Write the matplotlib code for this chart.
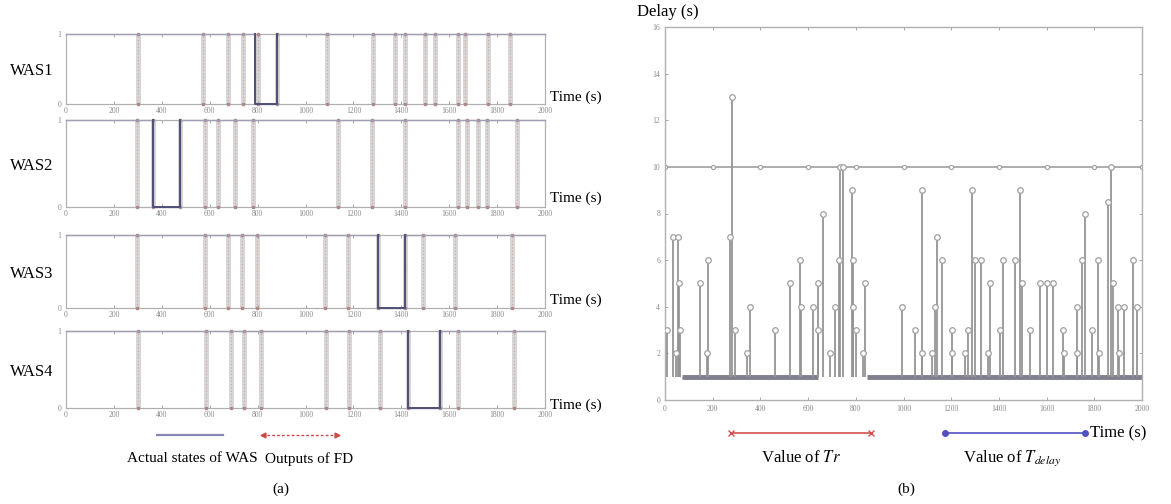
import numpy as np
import matplotlib.pyplot as plt
from matplotlib.lines import Line2D

plt.rcParams['font.family'] = ['Liberation Serif', 'DejaVu Serif']
plt.rcParams['mathtext.fontset'] = 'stix'

# ---- panel (a): WAS states and FD outputs ----
was_names = ['WAS1', 'WAS2', 'WAS3', 'WAS4']
# times (s) where the FD output a suspicion (vertical bars)
fd_out = [
    [300, 572, 677, 740, 800, 880, 1090, 1282, 1373, 1415, 1500, 1540, 1637, 1666, 1762, 1854],
    [296, 363, 476, 580, 635, 706, 781, 1136, 1278, 1415, 1637, 1674, 1720, 1757, 1883],
    [296, 580, 677, 735, 797, 1081, 1178, 1303, 1415, 1491, 1624, 1862],
    [300, 585, 689, 744, 813, 1087, 1182, 1311, 1430, 1560, 1637, 1871],
]
# interval where the WAS really was down (start, end)
was_down = [(790, 880), (363, 476), (1303, 1415), (1430, 1560)]
x_ticks = list(range(0, 2001, 200))

# ---- panel (b): detection delay ----
delay_t = [8, 35, 45, 55, 58, 62, 147, 175, 180, 272, 280, 293, 343, 356, 461, 524,
           566, 570, 620, 641, 643, 663, 692, 713, 730, 735, 745, 784, 789, 790, 800,
           830, 838, 994, 1048, 1077, 1077, 1119, 1132, 1140, 1161, 1203, 1205, 1258,
           1270, 1287, 1300, 1325, 1355, 1363, 1405, 1418, 1468, 1488, 1497, 1530,
           1572, 1600, 1628, 1670, 1672, 1726, 1728, 1747, 1761, 1789, 1817, 1820,
           1858, 1870, 1880, 1900, 1905, 1925, 1964, 1977]
delay_v = [3, 7, 2, 7, 5, 3, 5, 2, 6, 7, 13, 3, 2, 4, 3, 5,
           6, 4, 4, 5, 3, 8, 2, 4, 6, 10, 10, 9, 6, 4, 3,
           2, 5, 4, 3, 9, 2, 2, 4, 7, 6, 3, 2, 2,
           3, 9, 6, 6, 2, 5, 3, 6, 6, 9, 5, 3,
           5, 5, 5, 3, 2, 4, 2, 6, 8, 3, 6, 2,
           8.5, 10, 5, 4, 2, 4, 6, 4]
base_delay = 1
band_start = [70, 845]
band_end = [640, 2000]
tr_level = 10
y_ticks_b = list(range(0, 17, 2))

fig = plt.figure(figsize=(11.71, 5.04), dpi=100)
W, H = 1171, 504


def fx(px):
    return px / W


def fy(py):
    return 1 - py / H


tick_kw = dict(direction='in', length=2, width=0.6, labelsize=5.5,
               labelcolor='#8a8a8a', color='#999999', top=True, right=True)

boxes = [(34, 104), (120, 207), (235, 308), (331, 408)]
time_y = [97, 198, 300, 405]
for i, name in enumerate(was_names):
    top, bot = boxes[i]
    ax = fig.add_axes([fx(66), fy(bot), fx(545 - 66), (bot - top) / H])
    ev = np.array(fd_out[i])
    ax.vlines(ev, 0, 1, color='#d6d6d6', lw=3.6, zorder=1)
    ax.vlines(ev, 0, 1, color='#dca0a0', lw=0.8, linestyles=(0, (1, 2)), zorder=2)
    ax.plot(ev, np.ones(len(ev)), 's', ms=2, color='#b08888', zorder=3, clip_on=False)
    ax.plot(ev, np.zeros(len(ev)), 's', ms=2, color='#b08888', zorder=3, clip_on=False)
    d0, d1 = was_down[i]
    st_t = [0, d0, d0, d1, d1, 2000]
    st_v = [1, 1, 0, 0, 1, 1]
    ax.plot(st_t, st_v, color='#a0a0b4', lw=1.0, zorder=4, clip_on=False)
    # the down period itself, drawn darker
    ax.plot(st_t[1:5], st_v[1:5], color='#4e4e78', lw=1.4, zorder=5, clip_on=False)
    ax.set_xlim(0, 2000)
    ax.set_ylim(0, 1)
    ax.set_xticks(x_ticks)
    ax.set_yticks([0, 1])
    ax.tick_params(**tick_kw)
    ax.tick_params(axis='x', pad=2)
    for s in ax.spines.values():
        s.set_color('#b0b0b0')
        s.set_linewidth(0.9)
    fig.text(fx(10), fy((top + bot) / 2 + 2), name, fontsize=12, va='center', ha='left')
    fig.text(fx(550), fy(time_y[i]), 'Time (s)', fontsize=11, va='center', ha='left')

# legend (a)
fig.add_artist(Line2D([fx(157), fx(223)], [fy(435), fy(435)], color='#8888b8', lw=1.6))
fig.add_artist(Line2D([fx(262), fx(338)], [fy(435), fy(435)], color='#d04848', lw=1,
                      ls=(0, (2, 1.5))))
fig.add_artist(Line2D([fx(263)], [fy(435)], marker='<', ms=3.5, color='#d04848'))
fig.add_artist(Line2D([fx(337)], [fy(435)], marker='>', ms=3.5, color='#d04848'))
fig.text(fx(192), fy(459), 'Actual states of WAS', fontsize=11, ha='center', va='center')
fig.text(fx(309), fy(459), 'Outputs of FD', fontsize=11, ha='center', va='center')
fig.text(fx(281), fy(489), '(a)', fontsize=11, ha='center', va='center')

# ---- panel (b) ----
bx = fig.add_axes([fx(665), fy(400), fx(1142 - 665), (400 - 27) / H])
bx.axhline(tr_level, color='#a6a6a6', lw=1.3, zorder=1)
bx.plot(x_ticks, [tr_level] * len(x_ticks), 'o', ms=3, mfc='white', mec='#a0a0a0',
        mew=0.8, zorder=2)
bx.hlines([base_delay] * len(band_start), band_start, band_end, color='#80808e',
          lw=3.5, zorder=2)
bx.vlines(delay_t, base_delay, delay_v, color='#959595', lw=1.3, zorder=3)
bx.plot(delay_t, delay_v, 'o', ms=4, mfc='white', mec='#a0a0a0', mew=0.9, zorder=4)
bx.set_xlim(0, 2000)
bx.set_ylim(0, 16)
bx.set_xticks(x_ticks)
bx.set_yticks(y_ticks_b)
bx.tick_params(**tick_kw)
for s in bx.spines.values():
    s.set_color('#b0b0b0')
    s.set_linewidth(1.0)

fig.text(fx(637), fy(12), 'Delay (s)', fontsize=12, ha='left', va='center')
fig.text(fx(1090), fy(433), 'Time (s)', fontsize=12, ha='left', va='center')
fig.add_artist(Line2D([fx(731), fx(871)], [fy(433), fy(433)], color='#d05050', lw=1.2,
                      marker='x', ms=4, markevery=[0, 1]))
fig.add_artist(Line2D([fx(945), fx(1085)], [fy(433), fy(433)], color='#5050c0', lw=1.2,
                      marker='o', ms=4, markevery=[0, 1]))
fig.text(fx(801), fy(458), r'Value of $\mathit{Tr}$', fontsize=12, ha='center', va='center')
fig.text(fx(1012), fy(458), r'Value of $T_{delay}$', fontsize=12, ha='center', va='center')
fig.text(fx(906), fy(489), '(b)', fontsize=11, ha='center', va='center')

fig.savefig('out.png', dpi=100)
